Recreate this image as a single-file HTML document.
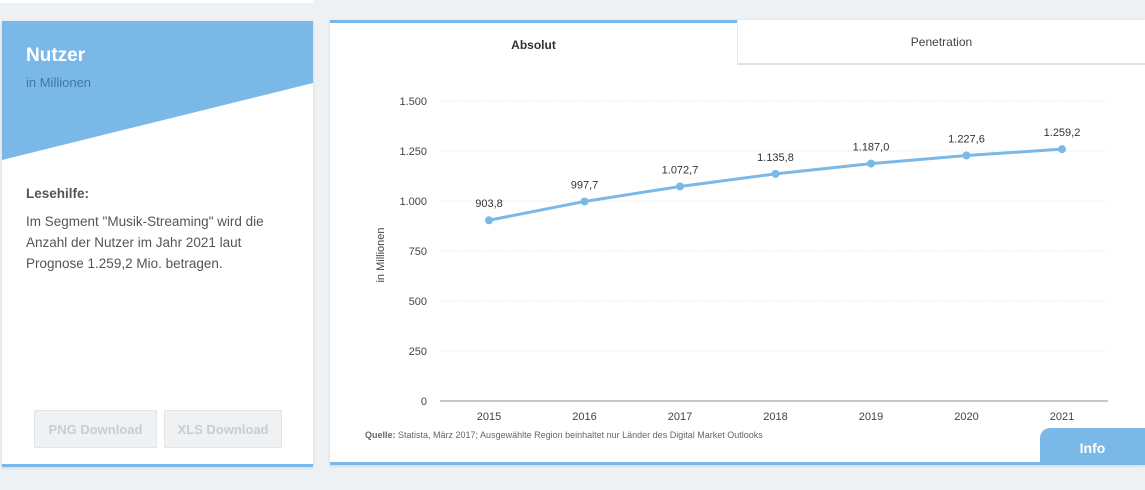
<!DOCTYPE html>
<html><head><meta charset="utf-8"><style>
body{margin:0;width:1145px;height:490px;background:#eef1f4;position:relative;overflow:hidden;font-family:"Liberation Sans",sans-serif}
.card{position:absolute;background:#fff;box-shadow:0 1px 3px rgba(0,0,0,.12)}
.btn{position:absolute;top:410px;height:38px;background:#eff1f3;border:1px solid #e3e6e9;color:#c9cdd1;font-size:13px;font-weight:bold;line-height:38px;text-align:center;box-sizing:border-box}
svg text{font-family:"Liberation Sans",sans-serif}
</style></head><body>
<div style="position:absolute;left:0;top:0;width:313px;height:3px;background:#fff"></div>
<div class="card" style="left:2px;top:21px;width:311px;height:446px;border-bottom:3px solid #7ab8e8;box-sizing:border-box">
<svg width="311" height="160" style="position:absolute;left:0;top:0"><polygon points="0,0 311,0 311,62 0,139" fill="#7ab8e8"/></svg>
<div style="position:absolute;left:24px;top:24px;color:#fff;font-size:19px;font-weight:bold">Nutzer</div>
<div style="position:absolute;left:24px;top:54px;color:#3f78a8;font-size:13px">in Millionen</div>
<div style="position:absolute;left:24px;top:165px;color:#555;font-size:13.5px;font-weight:bold">Lesehilfe:</div>
<div style="position:absolute;left:24px;top:190px;width:270px;color:#555;font-size:13.5px;line-height:21px">Im Segment "Musik-Streaming" wird die Anzahl der Nutzer im Jahr 2021 laut Prognose 1.259,2 Mio. betragen.</div>
</div>
<div class="btn" style="left:34px;width:123px">PNG Download</div>
<div class="btn" style="left:164px;width:118px">XLS Download</div>

<div class="card" style="left:330px;top:20px;width:815px;height:445px;border-bottom:3px solid #7ab8e8;box-sizing:border-box"></div>
<div style="position:absolute;left:330px;top:20px;width:407px;height:44px;border-top:3px solid #7ab8e8;box-sizing:border-box;text-align:center;line-height:44px;font-size:12px;font-weight:bold;color:#333;background:#fff">Absolut</div>
<div style="position:absolute;left:737px;top:20px;width:408px;height:45px;border-bottom:2px solid #dfe2e5;border-left:1px solid #e8eaec;box-sizing:border-box;text-align:center;line-height:44px;font-size:12px;color:#444;background:#fff">Penetration</div>
<div style="position:absolute;left:1040px;top:428px;width:105px;height:34px;background:#7ab8e8;border-radius:10px 0 0 0;color:#fff;font-weight:bold;font-size:14px;text-align:center;line-height:40px">Info</div>
<div style="position:absolute;left:365px;top:430px;font-size:9px;color:#666"><b>Quelle:</b> Statista, März 2017; Ausgewählte Region beinhaltet nur Länder des Digital Market Outlooks</div>

<svg id="chart" width="1145" height="430" style="position:absolute;left:0;top:0"></svg>
<script>
const years=["2015","2016","2017","2018","2019","2020","2021"];
const values=[903.8,997.7,1072.7,1135.8,1187.0,1227.6,1259.2];
const valueLabels=["903,8","997,7","1.072,7","1.135,8","1.187,0","1.227,6","1.259,2"];
const yTicks=[0,250,500,750,1000,1250,1500];
const yTickLabels=["0","250","500","750","1.000","1.250","1.500"];
const svg=document.getElementById('chart');const NS='http://www.w3.org/2000/svg';
const y=v=>401-v*0.2;const x=i=>489+i*95.5;
function mk(t,a){const e=document.createElementNS(NS,t);for(const k in a)e.setAttribute(k,a[k]);svg.appendChild(e);return e;}
yTicks.forEach((v,i)=>{
 const g=mk('line',{x1:440,x2:1108,y1:y(v),y2:y(v),stroke:v===0?'#c8c8c8':'#dcdcdc','stroke-width':v===0?2:1,'stroke-dasharray':v===0?'':'1,2'});
 
 
 const t=mk('text',{x:427,y:y(v)+4,'text-anchor':'end','font-size':11,fill:'#444'});t.textContent=yTickLabels[i];
 
 
});
years.forEach((yr,i)=>{const t=mk('text',{x:x(i),y:420,'text-anchor':'middle','font-size':11,fill:'#444'});t.textContent=yr;
 
 });
const yt=mk('text',{x:0,y:0,transform:'translate(384,255) rotate(-90)','text-anchor':'middle','font-size':11,fill:'#444'});yt.textContent='in Millionen';


const pl=mk('polyline',{points:values.map((v,i)=>x(i)+','+y(v)).join(' '),fill:'none',stroke:'#7ab8e8','stroke-width':3});


values.forEach((v,i)=>{const c=mk('circle',{cx:x(i),cy:y(v),r:4,fill:'#7ab8e8'});
 
 
 const t=mk('text',{x:x(i),y:y(v)-13,'text-anchor':'middle','font-size':11,fill:'#333'});t.textContent=valueLabels[i];
 
 });
</script>
</body></html>
